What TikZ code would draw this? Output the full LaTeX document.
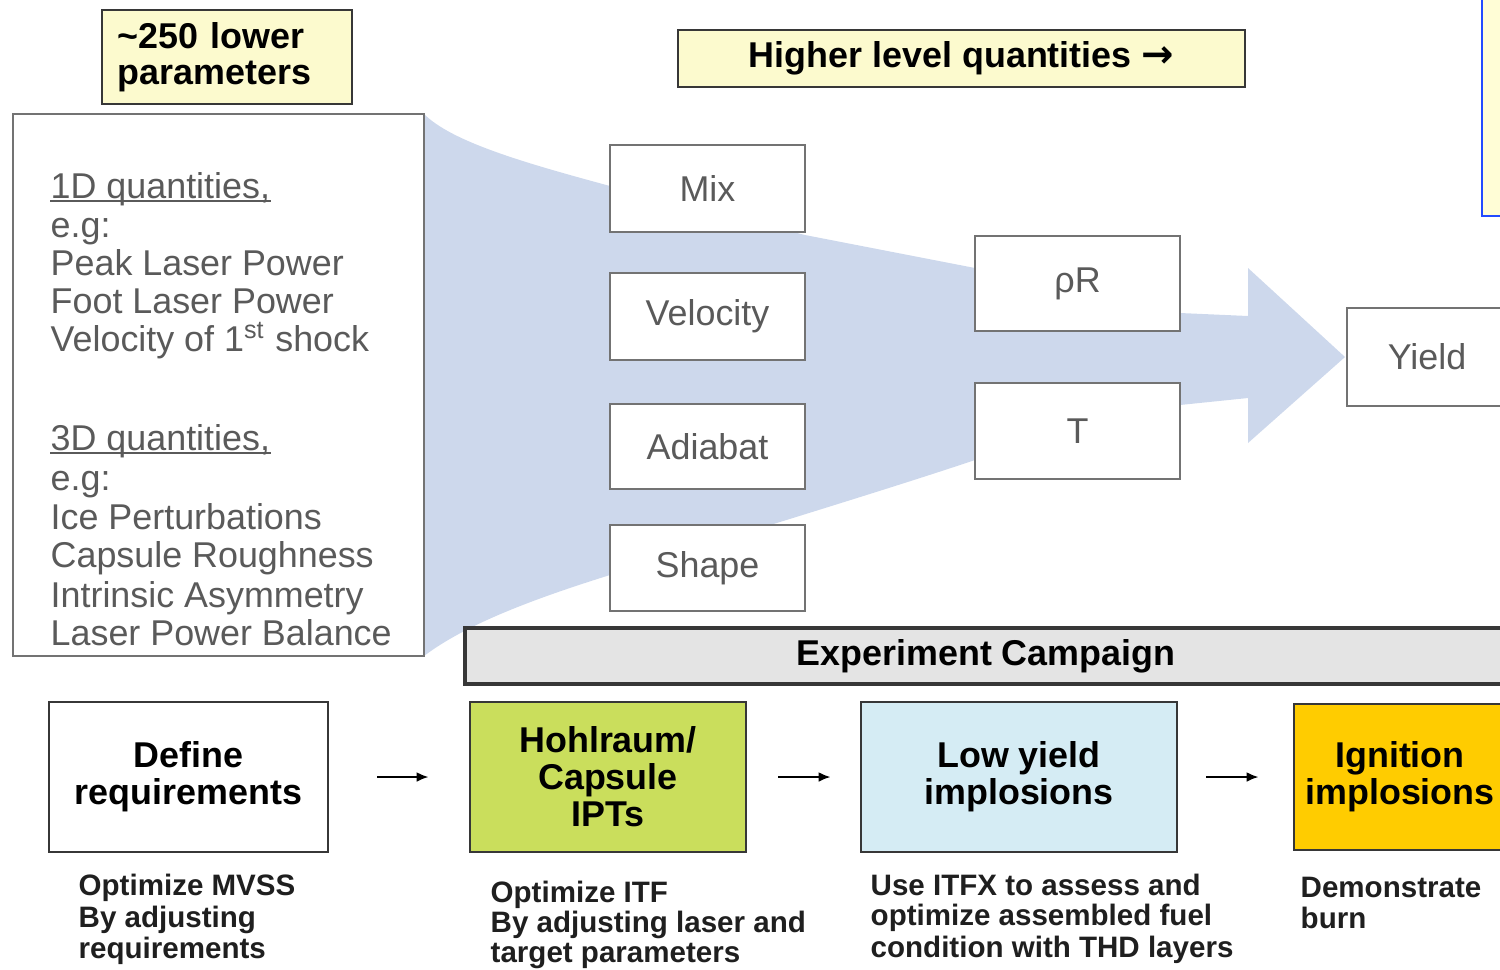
\documentclass[tikz,border=0pt]{standalone}
\usepackage{fontspec}
\setmainfont{Liberation Sans}
\newfontfamily\arrowfont{DejaVu Sans}
\usetikzlibrary{arrows.meta}

\definecolor{paleyel}{RGB}{252,250,206}
\definecolor{noteyel}{RGB}{255,253,214}
\definecolor{funnelblue}{RGB}{205,216,236}
\definecolor{qgray}{RGB}{90,90,90}
\definecolor{edgegray}{RGB}{115,115,115}
\definecolor{darkedge}{RGB}{55,55,55}
\definecolor{campgray}{RGB}{228,228,228}
\definecolor{ipgreen}{RGB}{202,222,92}
\definecolor{lowcyan}{RGB}{213,236,244}
\definecolor{igngold}{RGB}{255,204,0}
\definecolor{noteblue}{RGB}{35,75,255}

\begin{document}
\begin{tikzpicture}[x=0.01cm,y=-0.01cm,
  sz/.style 2 args={minimum width=#1*0.01cm, minimum height=#2*0.01cm},
  qbox/.style={draw=edgegray, line width=0.6pt, fill=white, inner sep=0pt,
               text=qgray, font=\fontsize{10.2}{12}\selectfont},
  ltxt/.style={anchor=base west, inner sep=0pt, text=qgray,
               font=\fontsize{10.2}{12}\selectfont},
  headbox/.style={draw=darkedge, line width=0.8pt, inner sep=0pt,
               font=\bfseries\fontsize{10.2}{10.2}\selectfont},
  stagebox/.style={draw=darkedge, line width=0.8pt, inner sep=0pt, align=center,
               font=\bfseries\fontsize{10.2}{10.5}\selectfont},
  captxt/.style={anchor=base west, inner sep=0pt, text=black!88,
               font=\bfseries\fontsize{8.4}{9}\selectfont},
  flowarrow/.style={draw=black, line width=0.6pt, -{Latex[length=3.4pt,width=2.8pt]}}
]
\useasboundingbox (0,0) rectangle (1500,969);
\clip (0,0) rectangle (1500,969);

% broad arrow carrying the lower parameters up to the yield
\fill[funnelblue] (424,114) .. controls (452,142) and (525,163) .. (610,186)
  -- (805,235) -- (975,268) -- (1180,313) -- (1248,316) -- (1248,268)
  -- (1345,357) -- (1248,443) -- (1248,398) -- (1180,405) -- (975,460)
  .. controls (880,492) and (720,540) .. (610,575)
  .. controls (530,600) and (465,625) .. (424,656) -- cycle;

% list of lower parameters
\node[draw=edgegray, fill=white, line width=0.6pt, inner sep=0pt, sz={411}{542}] (lbox) at (218.5,385) {};
\node[ltxt] (l1) at (50,198) {1D quantities,};
\draw[qgray, line width=0.5pt] ([yshift=-0.9pt]l1.base west) -- ([yshift=-0.9pt]l1.base east);
\node[ltxt] (l2) at (50,237) {e.g:};
\node[ltxt] (l3) at (50,275) {Peak Laser Power};
\node[ltxt] (l4) at (50,313) {Foot Laser Power};
\node[ltxt] (l5) at (50,351) {Velocity of 1\textsuperscript{st} shock};
\node[ltxt] (l6) at (50,450) {3D quantities,};
\draw[qgray, line width=0.5pt] ([yshift=-0.9pt]l6.base west) -- ([yshift=-0.9pt]l6.base east);
\node[ltxt] (l7) at (50,490) {e.g:};
\node[ltxt] (l8) at (50,529) {Ice Perturbations};
\node[ltxt] (l9) at (50,567) {Capsule Roughness};
\node[ltxt] (l10) at (50,607) {Intrinsic Asymmetry};
\node[ltxt] (l11) at (50,645) {Laser Power Balance};

% headings
\node[headbox, fill=paleyel, align=left, text width=2.18cm, inner xsep=0.16cm, minimum height=0.94cm]
  (lower) at (227,57) {\textasciitilde 250 lower\\parameters};
\node[headbox, fill=paleyel, sz={567}{57}] (higher) at (961.5,58.5)
  {Higher level quantities {\arrowfont\bfseries\fontsize{11}{11}\selectfont →}};
\draw[noteblue, line width=0.8pt, fill=noteyel] (1482,-10) rectangle (1530,216);

% intermediate quantities
\node[qbox, sz={195}{87}] (mix) at (707.5,188.5) {Mix};
\node[qbox, sz={195}{87}] (vel) at (707.5,316.5) {Velocity};
\node[qbox, sz={195}{85}] (adi) at (707.5,446.5) {Adiabat};
\node[qbox, sz={195}{86}] (shp) at (707.5,568) {Shape};
\node[qbox, sz={205}{95}] (rhor) at (1077.5,283.5) {ρR};
\node[qbox, sz={205}{96}] (temp) at (1077.5,431) {T};
\node[qbox, sz={160}{98}] (yld) at (1427,357) {Yield};

% experiment campaign
\node[headbox, fill=campgray, line width=0.9pt, sz={1042}{56}] (camp) at (986,656) {Experiment Campaign};
\node[stagebox, fill=white, sz={279}{150}] (def) at (188.5,777) {Define\\requirements};
\node[stagebox, fill=ipgreen, sz={276}{150}] (hoh) at (608,777) {Hohlraum/\\Capsule\\IPTs};
\node[stagebox, fill=lowcyan, sz={316}{150}] (low) at (1019,777) {Low yield\\implosions};
\node[stagebox, fill=igngold, sz={212}{146}] (ign) at (1400,777) {Ignition\\implosions};

\draw[flowarrow, shorten <=0.48cm, shorten >=0.40cm] (def.east) -- (hoh.west);
\draw[flowarrow, shorten <=0.31cm, shorten >=0.29cm] (hoh.east) -- (low.west);
\draw[flowarrow, shorten <=0.28cm, shorten >=0.34cm] (low.east) -- (ign.west);

% stage descriptions
\node[captxt] (c1a) at (78,895) {Optimize MVSS};
\node[captxt] (c1b) at (78,927) {By adjusting};
\node[captxt] (c1c) at (78,958) {requirements};
\node[captxt] (c2a) at (490,902) {Optimize ITF};
\node[captxt] (c2b) at (490,932) {By adjusting laser and};
\node[captxt] (c2c) at (490,962) {target parameters};
\node[captxt] (c3a) at (870,895) {Use ITFX to assess and};
\node[captxt] (c3b) at (870,925) {optimize assembled fuel};
\node[captxt] (c3c) at (870,957) {condition with THD layers};
\node[captxt] (c4a) at (1300,897) {Demonstrate};
\node[captxt] (c4b) at (1300,928) {burn};
\end{tikzpicture}
\end{document}
